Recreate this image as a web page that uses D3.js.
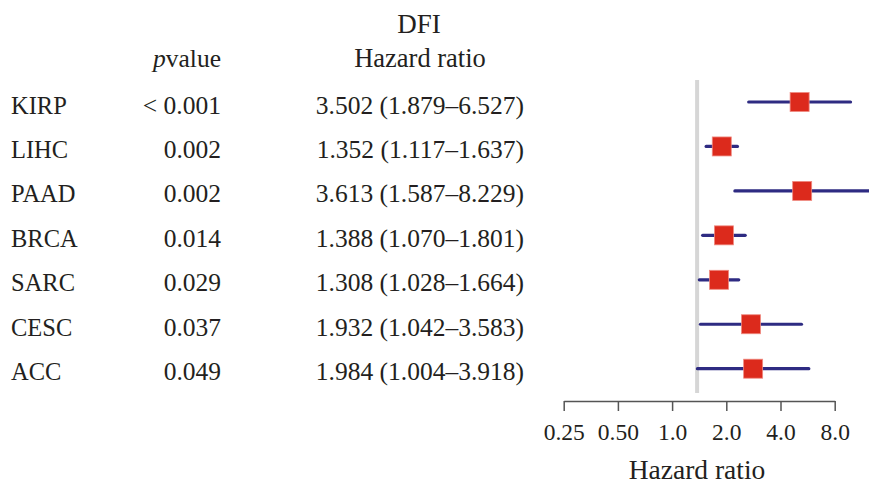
<!DOCTYPE html>
<html>
<head>
<meta charset="utf-8">
<script src="https://cdn.jsdelivr.net/npm/d3@7"></script>
<style>
  html, body { margin: 0; padding: 0; background: #fff; }
  svg { display: block; }
  text { font-family: "Liberation Serif", "DejaVu Serif", serif; fill: #231f20; }
</style>
</head>
<body>
<svg id="chart" width="869" height="486"></svg>
<script>
// ---- data ----
const cancers = ["KIRP", "LIHC", "PAAD", "BRCA", "SARC", "CESC", "ACC"];
const pvalues = ["< 0.001", "0.002", "0.002", "0.014", "0.029", "0.037", "0.049"];
const hr  = [3.502, 1.352, 3.613, 1.388, 1.308, 1.932, 1.984];
const lcl = [1.879, 1.117, 1.587, 1.070, 1.028, 1.042, 1.004];
const ucl = [6.527, 1.637, 8.229, 1.801, 1.664, 3.583, 3.918];
const axisTicks = [0.25, 0.5, 1.0, 2.0, 4.0, 8.0];
const axisTickLabels = ["0.25", "0.50", "1.0", "2.0", "4.0", "8.0"];

const svg = d3.select("#chart");
const fmt = d3.format(".3f");

// row positions
const y = d3.scalePoint().domain(cancers).range([102, 368.7]);

// scale used for the marks (HR = 1 at reference line)
const x = d3.scaleLog().base(2).domain([1, 8.229]).range([697.1, 697.1 + 56.7 * Math.log2(8.229)]);
// scale used for the drawn axis (as printed in the figure)
const xAxisScale = d3.scaleLog().base(2).domain([0.25, 8]).range([563.7, 834.7]);

// headers
svg.append("text").attr("x", 419).attr("y", 33).attr("text-anchor", "middle")
  .style("font-size", "27px").text("DFI");
svg.append("text").attr("x", 420).attr("y", 67).attr("text-anchor", "middle")
  .style("font-size", "26.5px").text("Hazard ratio");
const ph = svg.append("text").attr("x", 221).attr("y", 67).attr("text-anchor", "end")
  .style("font-size", "25.5px");
ph.append("tspan").style("font-style", "italic").text("p");
ph.append("tspan").text("value");

// table rows
const rows = cancers.map((c, i) => ({ c, p: pvalues[i], hr: hr[i], l: lcl[i], u: ucl[i] }));

svg.selectAll(".name").data(rows).join("text")
  .attr("x", 11).attr("y", d => y(d.c) + 11.5)
  .style("font-size", "24.5px").text(d => d.c);

svg.selectAll(".pv").data(rows).join("text")
  .attr("x", 221).attr("y", d => y(d.c) + 11.5).attr("text-anchor", "end")
  .style("font-size", "25.5px").text(d => d.p);

svg.selectAll(".hrt").data(rows).join("text")
  .attr("x", 524).attr("y", d => y(d.c) + 11.5).attr("text-anchor", "end")
  .style("font-size", "25.5px")
  .text(d => `${fmt(d.hr)} (${fmt(d.l)}\u2013${fmt(d.u)})`);

// reference line at HR = 1
svg.append("line")
  .attr("x1", x(1)).attr("x2", x(1)).attr("y1", 80).attr("y2", 393)
  .attr("stroke", "#d6d6d6").attr("stroke-width", 4);

// CI lines
svg.selectAll(".ci").data(rows).join("line")
  .attr("x1", d => x(d.l)).attr("x2", d => x(d.u))
  .attr("y1", d => y(d.c)).attr("y2", d => y(d.c))
  .attr("stroke", "#2e2b82").attr("stroke-width", 3.2).attr("stroke-linecap", "round");

// boxes
const bs = 19;
svg.selectAll(".box").data(rows).join("rect")
  .attr("x", d => x(d.hr) - bs / 2).attr("y", d => y(d.c) - bs / 2)
  .attr("width", bs).attr("height", bs)
  .attr("fill", "#dc2a1c").attr("stroke", "#ef8a80").attr("stroke-width", 0.8);

// axis
const axisG = svg.append("g").attr("transform", "translate(0,401)")
  .call(d3.axisBottom(xAxisScale).tickValues(axisTicks)
    .tickFormat((d, i) => axisTickLabels[i]).tickSize(10).tickPadding(0).tickSizeOuter(0));
axisG.select(".domain").attr("stroke", "#555").attr("stroke-width", 1.5);
axisG.selectAll(".tick line").attr("stroke", "#555").attr("stroke-width", 1.5);
axisG.selectAll(".tick text")
  .attr("y", 39).attr("dy", null)
  .style("font-family", '"Liberation Serif", "DejaVu Serif", serif')
  .style("font-size", "23.5px").style("fill", "#231f20");

svg.append("text").attr("x", 697).attr("y", 479).attr("text-anchor", "middle")
  .style("font-size", "27.5px").text("Hazard ratio");
</script>
</body>
</html>
